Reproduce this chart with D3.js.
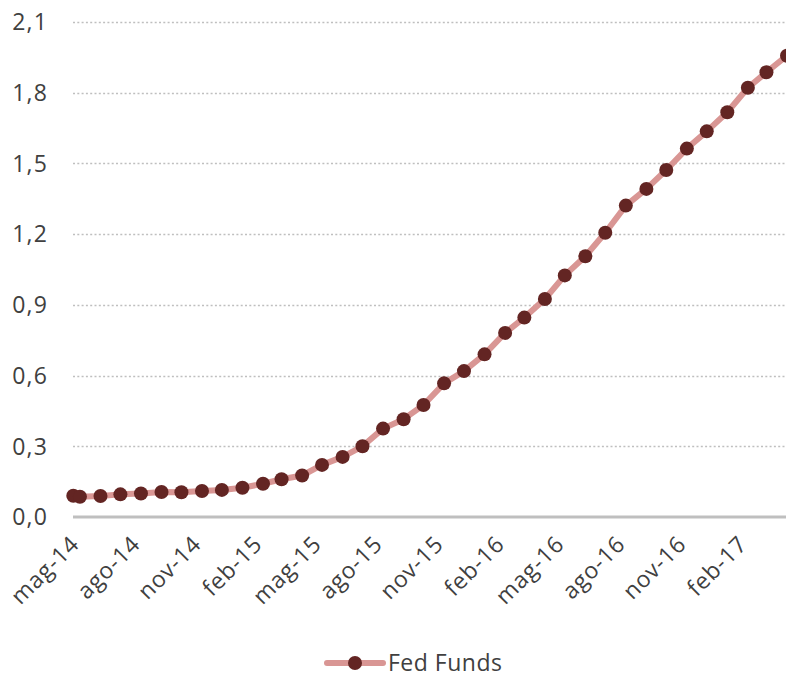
<!DOCTYPE html>
<html>
<head>
<meta charset="utf-8">
<script src="https://cdn.jsdelivr.net/npm/d3@7"></script>
<style>
  body { margin: 0; background: #fff; }
  text { font-family: "Open Sans", "Noto Sans", sans-serif; fill: #404040; }
</style>
</head>
<body>
<script>
// observation dates (first one end of april, then monthly)
var dates = ["2014-04-30",
  "2014-05-10", "2014-06-10", "2014-07-10", "2014-08-10", "2014-09-10", "2014-10-10",
  "2014-11-10", "2014-12-10", "2015-01-10", "2015-02-10", "2015-03-10", "2015-04-10",
  "2015-05-10", "2015-06-10", "2015-07-10", "2015-08-10", "2015-09-10", "2015-10-10",
  "2015-11-10", "2015-12-10", "2016-01-10", "2016-02-10", "2016-03-10", "2016-04-10",
  "2016-05-10", "2016-06-10", "2016-07-10", "2016-08-10", "2016-09-10", "2016-10-10",
  "2016-11-10", "2016-12-10", "2017-01-10", "2017-02-10", "2017-03-10", "2017-04-10"];

// Fed Funds (%)
var fedFunds = [0.090, 0.086, 0.089, 0.096, 0.100, 0.106, 0.105, 0.110, 0.115, 0.124,
  0.141, 0.160, 0.176, 0.221, 0.255, 0.300, 0.375, 0.415, 0.475, 0.567,
  0.619, 0.690, 0.781, 0.846, 0.925, 1.025, 1.106, 1.206, 1.321, 1.392,
  1.472, 1.563, 1.636, 1.717, 1.821, 1.887, 1.957];

var tickDates = ["2014-05-01", "2014-08-01", "2014-11-01", "2015-02-01", "2015-05-01", "2015-08-01",
  "2015-11-01", "2016-02-01", "2016-05-01", "2016-08-01", "2016-11-01", "2017-02-01"];
var tickLabels = ["mag-14", "ago-14", "nov-14", "feb-15", "mag-15", "ago-15",
  "nov-15", "feb-16", "mag-16", "ago-16", "nov-16", "feb-17"];

var yTicks = [0, 0.3, 0.6, 0.9, 1.2, 1.5, 1.8, 2.1];

var width = 786, height = 676;
var parse = d3.utcParse("%Y-%m-%d");

var data = dates.map(function(d, i) { return {date: parse(d), value: fedFunds[i]}; });

var x = d3.scaleUtc()
    .domain([parse(dates[0]), parse(dates[dates.length - 1])])
    .range([73.3, 787]);
var y = d3.scaleLinear().domain([0, 2.1]).range([517, 22]);

var fmt = function(v) { return d3.format(".1f")(v).replace(".", ","); };

var svg = d3.select("body").append("svg")
    .attr("width", width)
    .attr("height", height);

// gridlines
svg.append("g")
  .selectAll("line")
  .data(yTicks.slice(1))
  .enter().append("line")
    .attr("x1", 73)
    .attr("x2", width)
    .attr("y1", function(d) { return Math.round(y(d)) + 0.5; })
    .attr("y2", function(d) { return Math.round(y(d)) + 0.5; })
    .style("stroke", "#bfbfbf")
    .style("stroke-width", 1.5)
    .style("stroke-dasharray", "2,2.3");

// y labels
svg.append("g")
  .selectAll("text")
  .data(yTicks)
  .enter().append("text")
    .attr("x", 48)
    .attr("y", function(d) { return y(d); })
    .attr("dy", "0.36em")
    .style("text-anchor", "end")
    .style("font-size", "23px")
    .style("letter-spacing", "1.2px")
    .text(fmt);

// x axis line
svg.append("line")
    .attr("x1", 73)
    .attr("x2", width)
    .attr("y1", y(0))
    .attr("y2", y(0))
    .style("stroke", "#bfbfbf")
    .style("stroke-width", 3);

// x labels
svg.append("g")
  .selectAll("text")
  .data(tickDates)
  .enter().append("text")
    .attr("transform", function(d) {
      return "translate(" + (x(parse(d)) + 1) + ",540) rotate(-45)";
    })
    .attr("dy", "0.35em")
    .style("text-anchor", "end")
    .style("font-size", "23px")
    .style("letter-spacing", "0.8px")
    .text(function(d, i) { return tickLabels[i]; });

// line
var line = d3.line()
    .x(function(d) { return x(d.date); })
    .y(function(d) { return y(d.value); });

svg.append("path")
    .datum(data)
    .attr("d", line)
    .style("fill", "none")
    .style("stroke", "#d99694")
    .style("stroke-width", 6)
    .style("stroke-linejoin", "round");

svg.append("g")
  .selectAll("circle")
  .data(data)
  .enter().append("circle")
    .attr("cx", function(d) { return x(d.date); })
    .attr("cy", function(d) { return y(d.value); })
    .attr("r", 7)
    .style("fill", "#632523");

// legend
var legend = svg.append("g").attr("transform", "translate(0,663)");
legend.append("line")
    .attr("x1", 327).attr("x2", 383)
    .style("stroke", "#d99694")
    .style("stroke-width", 6)
    .style("stroke-linecap", "round");
legend.append("circle")
    .attr("cx", 355)
    .attr("r", 7)
    .style("fill", "#632523");
legend.append("text")
    .attr("x", 388)
    .attr("dy", "0.36em")
    .style("font-size", "23px")
    .style("letter-spacing", "0.5px")
    .text("Fed Funds");
</script>
</body>
</html>
